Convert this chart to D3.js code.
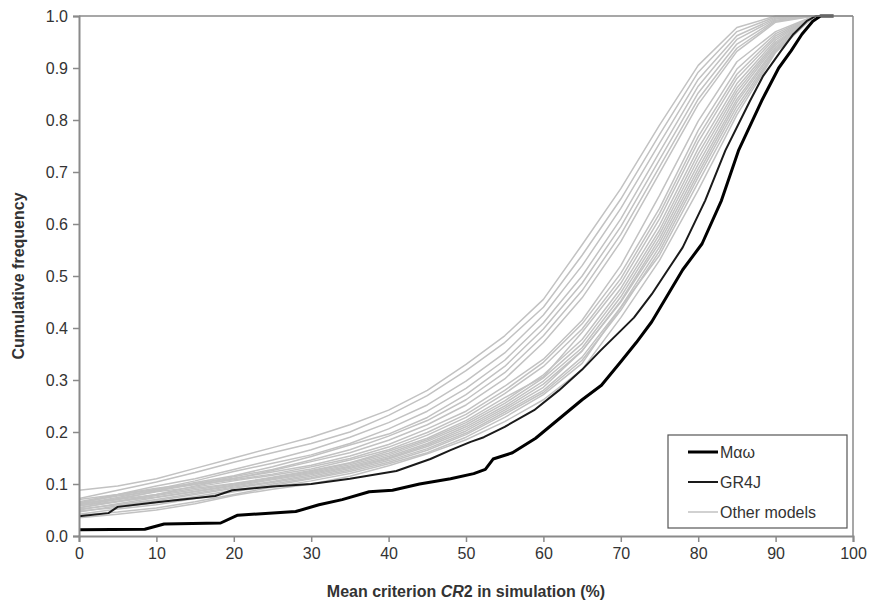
<!DOCTYPE html>
<html>
<head>
<meta charset="utf-8">
<script src="https://cdn.jsdelivr.net/npm/d3@7"></script>
<style>
  html, body { margin: 0; padding: 0; background: #fff; }
  svg { display: block; }
  text { font-family: "Liberation Sans", Arial, sans-serif; }
</style>
</head>
<body>
<svg id="chart" width="874" height="610"></svg>
<script>
// ---------------- data ----------------
const xTicks = [0, 10, 20, 30, 40, 50, 60, 70, 80, 90, 100];
const yTicks = [0, 0.1, 0.2, 0.3, 0.4, 0.5, 0.6, 0.7, 0.8, 0.9, 1.0];

const maoX = [0, 8.5, 11, 18.3, 20.5, 28, 31, 34, 37.5, 40.5, 44, 48, 51, 52.5, 53.5, 56, 59, 62, 65, 67.5, 70, 72, 74, 76, 78, 80.5, 83, 85.2, 88.2, 90.4, 92, 93.4, 94.8, 95.8, 97.5];
const maoY = [0.012, 0.013, 0.023, 0.025, 0.040, 0.047, 0.060, 0.070, 0.085, 0.088, 0.100, 0.110, 0.120, 0.128, 0.148, 0.160, 0.188, 0.225, 0.262, 0.290, 0.335, 0.372, 0.412, 0.462, 0.512, 0.562, 0.645, 0.741, 0.837, 0.900, 0.933, 0.965, 0.990, 1.0, 1.0];

const gr4jX = [0, 3.8, 5, 10, 17.6, 19.8, 25, 30, 35, 41, 45.4, 48, 50.6, 52.3, 55, 58.8, 62, 65, 67.4, 70, 71.7, 74, 76, 78, 80.9, 83.5, 86.7, 88.4, 90.7, 92.3, 94, 95.2, 97];
const gr4jY = [0.038, 0.044, 0.056, 0.065, 0.077, 0.088, 0.095, 0.100, 0.110, 0.125, 0.148, 0.165, 0.181, 0.190, 0.210, 0.242, 0.280, 0.320, 0.357, 0.395, 0.420, 0.465, 0.510, 0.555, 0.645, 0.741, 0.837, 0.885, 0.933, 0.965, 0.990, 1.0, 1.0];

const otherX = [0, 5, 10, 15, 20, 25, 30, 35, 40, 45, 50, 55, 60, 65, 70, 75, 80, 85, 90, 95, 100];
const otherModels = [
  [0.088,0.096,0.110,0.130,0.150,0.170,0.190,0.214,0.242,0.280,0.330,0.385,0.455,0.560,0.668,0.790,0.905,0.978,1,1,1],
  [0.072,0.088,0.104,0.122,0.142,0.160,0.178,0.200,0.232,0.270,0.318,0.372,0.440,0.540,0.648,0.772,0.892,0.970,0.998,1,1],
  [0.066,0.080,0.096,0.110,0.128,0.146,0.166,0.190,0.218,0.252,0.298,0.352,0.425,0.520,0.630,0.755,0.878,0.962,0.996,1,1],
  [0.063,0.079,0.090,0.106,0.124,0.140,0.156,0.178,0.206,0.240,0.284,0.338,0.410,0.500,0.610,0.738,0.865,0.955,0.994,1,1],
  [0.058,0.070,0.086,0.103,0.116,0.133,0.153,0.175,0.196,0.228,0.272,0.326,0.398,0.486,0.595,0.724,0.852,0.946,0.992,1,1],
  [0.061,0.074,0.089,0.100,0.114,0.128,0.146,0.166,0.192,0.222,0.262,0.314,0.385,0.472,0.580,0.710,0.840,0.938,0.990,1,1],
  [0.054,0.067,0.080,0.096,0.110,0.126,0.143,0.160,0.184,0.214,0.252,0.302,0.372,0.458,0.566,0.698,0.830,0.932,0.988,1,1],
  [0.070,0.080,0.092,0.101,0.111,0.123,0.136,0.154,0.176,0.206,0.240,0.288,0.340,0.415,0.520,0.655,0.798,0.912,0.970,1,1],
  [0.064,0.077,0.087,0.099,0.108,0.119,0.133,0.149,0.171,0.199,0.234,0.280,0.334,0.408,0.505,0.630,0.780,0.898,0.966,1,1],
  [0.060,0.072,0.085,0.094,0.106,0.117,0.129,0.146,0.166,0.194,0.228,0.274,0.326,0.398,0.495,0.620,0.768,0.888,0.962,1,1],
  [0.063,0.070,0.080,0.092,0.101,0.113,0.126,0.141,0.163,0.188,0.222,0.266,0.306,0.392,0.486,0.610,0.758,0.880,0.958,1,1],
  [0.055,0.066,0.078,0.089,0.100,0.112,0.124,0.140,0.159,0.185,0.218,0.260,0.310,0.378,0.476,0.598,0.745,0.870,0.954,1,1],
  [0.058,0.067,0.075,0.086,0.098,0.110,0.122,0.137,0.156,0.182,0.214,0.255,0.304,0.370,0.468,0.588,0.735,0.862,0.950,1,1],
  [0.050,0.062,0.074,0.085,0.096,0.108,0.120,0.134,0.153,0.178,0.210,0.250,0.298,0.362,0.460,0.580,0.725,0.855,0.947,1,1],
  [0.052,0.060,0.070,0.082,0.094,0.105,0.118,0.132,0.150,0.175,0.206,0.246,0.292,0.356,0.452,0.572,0.715,0.848,0.944,1,1],
  [0.046,0.058,0.068,0.080,0.092,0.103,0.115,0.130,0.148,0.172,0.202,0.242,0.286,0.356,0.450,0.564,0.706,0.840,0.940,1,1],
  [0.048,0.055,0.064,0.076,0.088,0.100,0.112,0.127,0.145,0.168,0.198,0.238,0.280,0.344,0.440,0.556,0.698,0.834,0.937,1,1],
  [0.042,0.052,0.060,0.072,0.085,0.097,0.110,0.124,0.142,0.165,0.195,0.234,0.276,0.338,0.434,0.548,0.690,0.826,0.934,1,1],
  [0.040,0.046,0.054,0.066,0.080,0.094,0.106,0.120,0.139,0.160,0.190,0.228,0.272,0.332,0.440,0.540,0.680,0.818,0.932,1,1],
  [0.035,0.042,0.050,0.062,0.078,0.090,0.100,0.115,0.135,0.158,0.185,0.220,0.262,0.320,0.420,0.530,0.665,0.810,0.930,1,1]
];

const legendLabels = ["M\u03b1\u03c9", "GR4J", "Other models"];

// ---------------- layout ----------------
const svg = d3.select("#chart");
const L = 79, R = 853, T = 16, B = 536;
const x = d3.scaleLinear().domain([0, 100]).range([L, R]);
const y = d3.scaleLinear().domain([0, 1]).range([B, T]);

const axisColor = "#8a8a8a";
const textColor = "#333";

svg.append("defs").append("clipPath").attr("id", "clip")
  .append("rect").attr("x", L).attr("y", T - 2).attr("width", R - L).attr("height", B - T + 2);

const line = d3.line().x(d => x(d[0])).y(d => y(d[1]));
const plot = svg.append("g").attr("clip-path", "url(#clip)");

otherModels.forEach(vals => {
  plot.append("path")
    .datum(otherX.map((xv, i) => [xv, vals[i]]))
    .attr("d", line)
    .attr("fill", "none")
    .attr("stroke", "#c2c2c2")
    .attr("stroke-width", 1.5)
    .attr("stroke-linejoin", "round");
});

// frame (top & right)
svg.append("line").attr("x1", L).attr("x2", R).attr("y1", T).attr("y2", T)
  .attr("stroke", axisColor).attr("stroke-width", 1.5);
svg.append("line").attr("x1", R).attr("x2", R).attr("y1", T).attr("y2", B)
  .attr("stroke", axisColor).attr("stroke-width", 1.5);

plot.append("path")
  .datum(gr4jX.map((xv, i) => [xv, gr4jY[i]]))
  .attr("d", line)
  .attr("fill", "none").attr("stroke", "#1a1a1a").attr("stroke-width", 2)
  .attr("stroke-linejoin", "round");

plot.append("path")
  .datum(maoX.map((xv, i) => [xv, maoY[i]]))
  .attr("d", line)
  .attr("fill", "none").attr("stroke", "#000").attr("stroke-width", 3)
  .attr("stroke-linejoin", "round");

// axes
const xAxis = svg.append("g").attr("transform", `translate(0,${B})`)
  .call(d3.axisBottom(x).tickValues(xTicks).tickSize(6).tickPadding(6).tickFormat(d3.format("d")));
const yAxis = svg.append("g").attr("transform", `translate(${L},0)`)
  .call(d3.axisLeft(y).tickValues(yTicks).tickSize(6).tickPadding(5).tickFormat(d3.format(".1f")));

[xAxis, yAxis].forEach(g => {
  g.select(".domain").attr("stroke", axisColor).attr("stroke-width", 2);
  g.selectAll(".tick line").attr("stroke", axisColor).attr("stroke-width", 1.5);
  g.selectAll(".tick text").attr("fill", textColor).style("font-size", "16px")
    .style("font-family", "'Liberation Sans', Arial, sans-serif");
});

// axis titles
const xt = svg.append("text")
  .attr("x", 466).attr("y", 597)
  .attr("text-anchor", "middle")
  .attr("fill", textColor)
  .style("font-size", "16px").style("font-weight", "bold");
xt.append("tspan").text("Mean criterion ");
xt.append("tspan").style("font-style", "italic").text("CR");
xt.append("tspan").text("2 in simulation (%)");

svg.append("text")
  .attr("transform", `translate(24,${(T + B) / 2}) rotate(-90)`)
  .attr("text-anchor", "middle")
  .attr("fill", textColor)
  .style("font-size", "16px").style("font-weight", "bold")
  .text("Cumulative frequency");

// legend
const lg = svg.append("g");
lg.append("rect").attr("x", 668).attr("y", 435).attr("width", 179).attr("height", 93)
  .attr("fill", "#fff").attr("stroke", "#555").attr("stroke-width", 1.2);
const lgStyles = [
  { stroke: "#000", w: 3 },
  { stroke: "#1a1a1a", w: 2 },
  { stroke: "#c2c2c2", w: 1.5 }
];
legendLabels.forEach((lab, i) => {
  const yy = 452 + i * 30;
  lg.append("line").attr("x1", 688).attr("x2", 718).attr("y1", yy).attr("y2", yy)
    .attr("stroke", lgStyles[i].stroke).attr("stroke-width", lgStyles[i].w);
  lg.append("text").attr("x", 720).attr("y", yy).attr("dy", "0.35em")
    .attr("fill", textColor).style("font-size", "16px").text(lab);
});
</script>
</body>
</html>
